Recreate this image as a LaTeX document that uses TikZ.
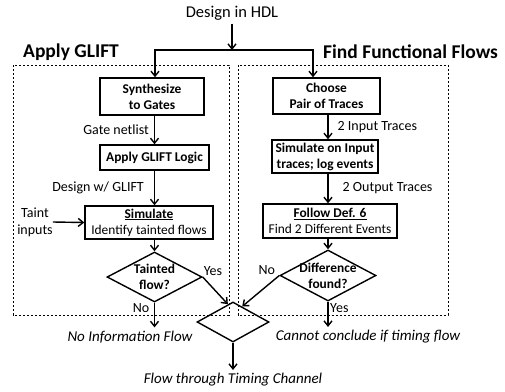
\documentclass[tikz,border=0pt]{standalone}
\usepackage{fontspec}
\setmainfont{Carlito}
\usepackage{tikz}
\usetikzlibrary{
  shapes.geometric,
  arrows.meta,
  positioning,
  calc
}
\tikzset{
  % Kutular
  stepbox/.style={
    draw,
    line width=1.4pt,
    align=center,
    inner sep=1pt,
    font=\fontsize{13.4}{16}\selectfont
  },
  decision/.style={diamond, draw, line width=1.4pt, inner sep=0pt},
  decisiontext/.style={align=center, inner sep=0pt, font=\fontsize{13.4}{16}\selectfont\bfseries},
  % Kesikli grup kutusu
  groupbox/.style={draw, line width=0.8pt, dash pattern=on 2.4pt off 1.6pt},
  header/.style={font=\fontsize{19.5}{22}\selectfont\bfseries, anchor=west, inner sep=0pt},
  % Etiketler
  edgelabel/.style={font=\fontsize{14}{17}\selectfont, inner sep=1pt},
  outcome/.style={font=\fontsize{15}{17}\selectfont\itshape},
  % Oklar
  arrow/.style={-{Straight Barb[length=5pt,width=8pt]}, line width=1.4pt},
}

\begin{document}
\begin{tikzpicture}[x=1pt, y=-1pt]
  \useasboundingbox (0,0) rectangle (505,391);

  % gruplar
  \draw[groupbox] (13,65) rectangle (229,315);
  \draw[groupbox] (238,65) rectangle (448,315);
  \node[header] (gliftHead) at (23,52) {Apply GLIFT};
  \node[header] (funcHead) at (323,52) {Find Functional Flows};

  \node[font=\fontsize{16.5}{18}\selectfont] (hdl) at (232,13) {Design in HDL};
  \coordinate (split) at (232,50);
  \coordinate (splitL) at (155,50);
  \coordinate (splitR) at (313,50);

  % sol sutun
  \node[stepbox, font=\fontsize{13.4}{16}\selectfont\bfseries, minimum width=104pt, minimum height=37pt] (synth) at (152,96.5) {Synthesize\\to Gates};
  \node[stepbox, font=\fontsize{13.4}{16}\selectfont\bfseries, minimum width=109pt, minimum height=25pt] (glift) at (154.5,157.5) {Apply GLIFT Logic};
  \node[stepbox, minimum width=128pt, minimum height=33pt] (simL) at (149,222.5) {\textbf{\underline{Simulate}}\\Identify tainted flows};
  \node[decision, minimum width=95pt, minimum height=50pt] (taint) at (154.5,277) {};
  \node[decisiontext] (taintTxt) at (taint) {Tainted\\flow?};

  % sag sutun
  \node[stepbox, font=\fontsize{13.4}{16}\selectfont\bfseries, minimum width=107pt, minimum height=36pt] (choose) at (326.5,96) {Choose\\Pair of Traces};
  \node[stepbox, font=\fontsize{13.4}{16}\selectfont\bfseries, minimum width=106pt, minimum height=33pt] (simR) at (325,156.5) {Simulate on Input\\traces; log events};
  \node[stepbox, minimum width=134pt, minimum height=34pt] (follow) at (330,221) {\textbf{\underline{Follow Def. 6}}\\Find 2 Different Events};
  \node[decision, minimum width=96pt, minimum height=51pt] (diff) at (328,275.5) {};
  \node[decisiontext] (diffTxt) at (diff) {Difference\\found?};

  % birlesme
  \node[decision, minimum width=72pt, minimum height=40pt] (merge) at (233,322) {};

  % sonuclar
  \node[outcome] (noinfo) at (130,337) {No Information Flow};
  \node[outcome] (cannot) at (368,337) {Cannot conclude if timing flow};
  \node[outcome] (timing) at (233,380) {Flow through Timing Channel};
  \node[edgelabel, inner sep=0pt, align=center] (taintIn) at (35,222) {Taint\\inputs};

  % oklar
  \draw[arrow] (hdl.south) -- (split);
  \draw[arrow] (splitR) -| (synth.north -| splitL);
  \draw[arrow] (splitL) -| (choose.north -| splitR);

  \draw[arrow] (synth.south -| glift) -- (glift.north)
    node[edgelabel, midway, left=4pt] (netLbl) {Gate netlist};
  \draw[arrow] (glift.south) -- (glift.south |- simL.north)
    node[edgelabel, midway, left=9pt] (wLbl) {Design w/ GLIFT};
  \draw[arrow] (taintIn.east) -- (simL.west);
  \draw[arrow] (simL.south -| taint) -- (taint.north);
  \draw[arrow] (taint.south) -- (taint.south |- noinfo.north);
  \draw[arrow] (taint.east) -- ($(merge.north)!0.14!(merge.west)$);

  \draw[arrow] (choose.south -| diff) -- (simR.north -| diff)
    node[edgelabel, midway, right=8pt] (inLbl) {2 Input Traces};
  \draw[arrow] (simR.south -| diff) -- (follow.north -| diff)
    node[edgelabel, midway, right=13pt] (outLbl) {2 Output Traces};
  \draw[arrow] (follow.south -| diff) -- (diff.north);
  \draw[arrow] (diff.south) -- (diff.south |- cannot.north);
  \draw[arrow] (diff.west) -- ($(merge.north)!0.25!(merge.east)$);
  \draw[arrow] (merge.south) -- (timing.north);

  \node[edgelabel, anchor=west] (yesL) at ([yshift=6pt]taint.east) {Yes};
  \node[edgelabel, anchor=east] (noL) at ([xshift=-4pt,yshift=-5pt]taint.south) {No};
  \node[edgelabel, anchor=east] (noR) at ([xshift=-3pt,yshift=5pt]diff.west) {No};
  \node[edgelabel, anchor=west] (yesR) at ([xshift=1pt,yshift=-6pt]diff.south) {Yes};
\end{tikzpicture}
\end{document}
